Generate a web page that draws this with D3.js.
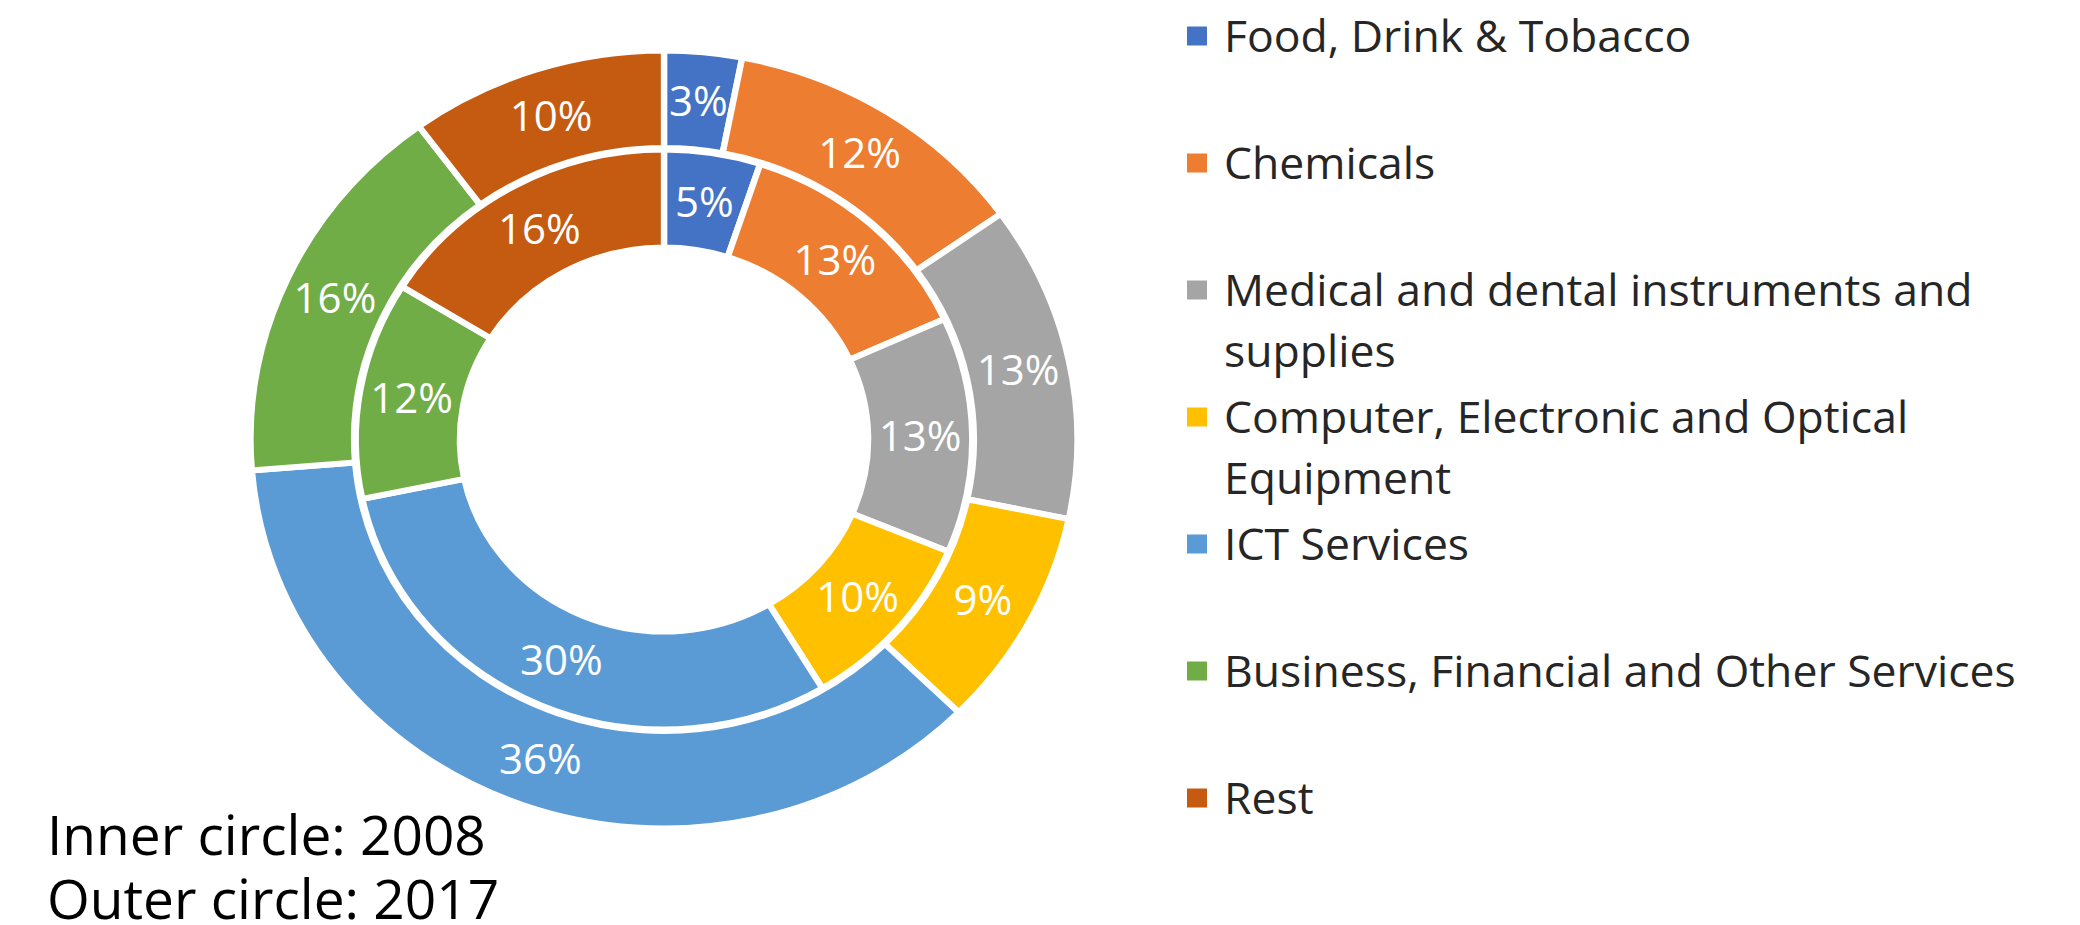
<!DOCTYPE html>
<html>
<head>
<meta charset="utf-8">
<script src="https://cdn.jsdelivr.net/npm/d3@7"></script>
<style>
  html, body { margin: 0; padding: 0; background: #fff; }
  svg { display: block; font-family: "Open Sans", sans-serif; }
  .slice { stroke: #fff; stroke-width: 6; }
  .label { fill: #fff; font-size: 42px; }
  .legend-text { fill: #262626; font-size: 44.5px; }
  .note { fill: #000; font-size: 55px; }
</style>
</head>
<body>
<div id="chart"></div>
<script>
const categories = [
  "Food, Drink & Tobacco",
  "Chemicals",
  "Medical and dental instruments and supplies",
  "Computer, Electronic and Optical Equipment",
  "ICT Services",
  "Business, Financial and Other Services",
  "Rest"
];
const values2008 = [5, 13, 13, 10, 30, 12, 16]; // inner circle
const values2017 = [3, 12, 13, 9, 36, 16, 10];  // outer circle
const colors = ["#4472C4", "#ED7D31", "#A5A5A5", "#FFC000", "#5B9BD5", "#70AD47", "#C55A11"];
const notes = ["Inner circle: 2008", "Outer circle: 2017"];

(() => {
  const width = 2080;
  const height = 925;

  // the picture is a bit wider than tall, so the donut is stretched
  const cx = 664, cy = 439.5, stretch = 1.063;

  const svg = d3
    .select("#chart")
    .append("svg")
    .attr("width", width)
    .attr("height", height);

  const color = d3.scaleOrdinal().domain(categories).range(colors);

  const pie = d3.pie().sort(null).value(d => d.value);

  const rings = [
    { key: "2008", values: values2008, inner: 192, outer: 290 },
    { key: "2017", values: values2017, inner: 291.5, outer: 389 },
  ];

  const donut = svg
    .append("g")
    .attr("transform", `translate(${cx},${cy}) scale(${stretch},1)`);

  rings.forEach(ring => {
    const arc = d3.arc().innerRadius(ring.inner).outerRadius(ring.outer);
    const arcs = pie(categories.map((c, i) => ({ cat: c, value: ring.values[i] })));

    const g = donut.append("g").attr("class", "ring-" + ring.key);

    g.selectAll("path")
      .data(arcs)
      .join("path")
      .attr("class", "slice")
      .attr("fill", d => color(d.data.cat))
      .attr("d", arc);

    // labels stay unscaled, placed at the stretched centroid
    svg
      .append("g")
      .selectAll("text")
      .data(arcs)
      .join("text")
      .attr("class", "label")
      .attr("text-anchor", "middle")
      .attr("x", d => cx + arc.centroid(d)[0] * stretch)
      .attr("y", d => cy + arc.centroid(d)[1] + 15)
      .text(d => `${d.data.value}%`);
  });

  // legend
  const legendX = 1224;
  const lineH = 61;
  const wrapWidth = 820;
  const slotY = d3.scalePoint().domain(categories).range([36, 798]);

  const items = svg
    .append("g")
    .selectAll(".legend-item")
    .data(categories)
    .join("g")
    .attr("class", "legend-item")
    .attr("transform", d => `translate(0,${slotY(d)})`);

  items
    .append("rect")
    .attr("x", 1187)
    .attr("y", -9.5)
    .attr("width", 20)
    .attr("height", 19)
    .attr("fill", d => color(d));

  items.each(function (d) {
    const g = d3.select(this);
    const words = d.split(" ");
    let line = [];
    let row = 0;
    let tspan = g
      .append("text")
      .attr("class", "legend-text")
      .attr("x", legendX)
      .attr("y", 15.5);
    words.forEach(w => {
      line.push(w);
      tspan.text(line.join(" "));
      if (tspan.node().getComputedTextLength() > wrapWidth && line.length > 1) {
        line.pop();
        tspan.text(line.join(" "));
        line = [w];
        row += 1;
        tspan = g
          .append("text")
          .attr("class", "legend-text")
          .attr("x", legendX)
          .attr("y", 15.5 + row * lineH)
          .text(w);
      }
    });
  });

  // bottom notes
  svg
    .append("g")
    .selectAll("text")
    .data(notes)
    .join("text")
    .attr("class", "note")
    .attr("x", 47)
    .attr("y", (d, i) => 855 + i * 64)
    .text(d => d);
})();
</script>
</body>
</html>
